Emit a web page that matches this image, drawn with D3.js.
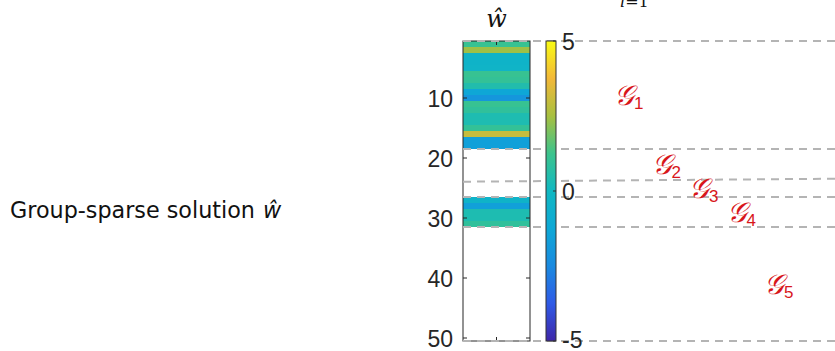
<!DOCTYPE html>
<html>
<head>
<meta charset="utf-8">
<script src="https://cdn.jsdelivr.net/npm/d3@7"></script>
<style>
  body { margin: 0; background: #fff; }
  svg { display: block; }
</style>
</head>
<body>
<svg id="chart" width="835" height="351"></svg>
<script>
// Values of the group-sparse solution, one per row (null = not selected, drawn white)
const rowValues = [
  1.1, 2.4, -0.4, -0.4, -0.3, 1.1, 1.0, 0.5, -1.3, -2.0,
  1.1, 0.9, 0.4, 0.4, 1.0, 3.0, -1.6, -1.6, null, null,
  null, null, null, null, null, null, -0.4, -1.6, 0.4, 0.4,
  0.9, null, null, null, null, null, null, null, null, null,
  null, null, null, null, null, null, null, null, null, null
];
const rowTicks = [10, 20, 30, 40, 50];
const colorTicks = [5, 0, -5];
const colorDomain = [-5, 5];

// group boundaries (row units); the third one is slightly tilted in the figure
const groupBoundsLeft = [0.5, 18.5, 23.95, 26.5, 31.5, 50.5];
const groupBoundsRight = [0.5, 18.5, 23.45, 26.5, 31.5, 50.5];
const groupLabels = ['1', '2', '3', '4', '5'];

// parula-like colormap
const parulaStops = ['#3e26a8', '#2f5ae6', '#1a8ae0', '#0ea8d6', '#10b8c2',
                     '#3cc38c', '#a8c040', '#f2b838', '#f9fb14'];

const svg = d3.select('#chart');
const axisColor = '#262626';

// Scales
const y = d3.scaleLinear().domain([0.5, 50.5]).range([41, 341]);
const x = d3.scaleLinear().domain([0.5, 1.5]).range([463, 530]);
const cbY = d3.scaleLinear().domain(colorDomain).range([341, 41]);
const color = d3.scaleLinear()
  .domain(parulaStops.map((c, i) => colorDomain[0] + i * (colorDomain[1] - colorDomain[0]) / (parulaStops.length - 1)))
  .range(parulaStops)
  .interpolate(d3.interpolateRgb);

// Heatmap cells
const heat = svg.append('g').attr('class', 'heat');
heat.selectAll('rect.cell')
  .data(rowValues)
  .enter()
  .append('rect')
  .attr('class', 'cell')
  .attr('x', x(0.5))
  .attr('y', (d, i) => y(i + 0.5))
  .attr('width', x(1.5) - x(0.5))
  .attr('height', y(1.5) - y(0.5) + 0.3)
  .attr('fill', d => d === null ? '#fff' : color(d));

// Box
heat.append('rect')
  .attr('x', x(0.5)).attr('y', y(0.5))
  .attr('width', x(1.5) - x(0.5)).attr('height', y(50.5) - y(0.5))
  .attr('fill', 'none').attr('stroke', axisColor).attr('stroke-width', 1);

// y ticks, both sides inward
rowTicks.forEach(t => {
  heat.append('line').attr('x1', x(0.5)).attr('x2', x(0.5) + 4)
    .attr('y1', y(t)).attr('y2', y(t)).attr('stroke', axisColor);
  heat.append('line').attr('x1', x(1.5)).attr('x2', x(1.5) - 4)
    .attr('y1', y(t)).attr('y2', y(t)).attr('stroke', axisColor);
});
// x tick at column 1
heat.append('line').attr('x1', x(1)).attr('x2', x(1)).attr('y1', y(0.5)).attr('y2', y(0.5) + 4).attr('stroke', axisColor);
heat.append('line').attr('x1', x(1)).attr('x2', x(1)).attr('y1', y(50.5)).attr('y2', y(50.5) - 4).attr('stroke', axisColor);

heat.selectAll('text.ytick')
  .data(rowTicks)
  .enter()
  .append('text')
  .attr('class', 'ytick')
  .attr('x', x(0.5) - 10)
  .attr('y', d => y(d) + 1)
  .attr('dy', '0.36em')
  .attr('text-anchor', 'end')
  .attr('font-family', 'Liberation Sans, Arial, sans-serif')
  .attr('font-size', 23)
  .attr('fill', axisColor)
  .text(d => d);

// Title w-hat
svg.append('text')
  .attr('x', x(1)).attr('y', 27)
  .attr('text-anchor', 'middle')
  .attr('font-family', 'DejaVu Serif, Liberation Serif, serif')
  .attr('font-style', 'italic')
  .attr('font-size', 24)
  .attr('fill', '#111')
  .text('ŵ');

// Dashed group boundaries
svg.append('g').attr('class', 'bounds')
  .selectAll('line')
  .data(groupBoundsLeft)
  .enter()
  .append('line')
  .attr('x1', 463).attr('x2', 835)
  .attr('y1', d => y(d))
  .attr('y2', (d, i) => y(groupBoundsRight[i]))
  .attr('stroke', '#b4b4b4')
  .attr('stroke-width', 2)
  .attr('stroke-dasharray', '8,6');

// Colorbar
const defs = svg.append('defs');
const grad = defs.append('linearGradient')
  .attr('id', 'parula').attr('x1', 0).attr('y1', 1).attr('x2', 0).attr('y2', 0);
parulaStops.forEach((c, i) => {
  grad.append('stop').attr('offset', i / (parulaStops.length - 1)).attr('stop-color', c);
});
const cb = svg.append('g').attr('class', 'colorbar');
cb.append('rect')
  .attr('x', 546).attr('y', cbY(5)).attr('width', 10).attr('height', cbY(-5) - cbY(5))
  .attr('fill', 'url(#parula)')
  .attr('stroke', '#333').attr('stroke-width', 1);
colorTicks.forEach(t => {
  cb.append('line').attr('x1', 556).attr('x2', 553).attr('y1', cbY(t)).attr('y2', cbY(t)).attr('stroke', '#333');
});
cb.selectAll('text')
  .data(colorTicks)
  .enter()
  .append('text')
  .attr('x', 562)
  .attr('y', d => d < 0 ? cbY(d) - 1 : cbY(d) + 1)
  .attr('dy', '0.36em')
  .attr('font-family', 'Liberation Sans, Arial, sans-serif')
  .attr('font-size', 23)
  .attr('fill', axisColor)
  .text(d => d < 0 ? '-' + Math.abs(d) : d);

// Group labels G_k, placed under each group's middle row
const labelX = d3.scaleLinear().domain([0, 4]).range([614, 764]);
const gl = svg.append('g').attr('class', 'glabels');
groupLabels.forEach((g, i) => {
  const mid = (groupBoundsRight[i] + groupBoundsRight[i + 1]) / 2;
  const t = gl.append('text')
    .attr('x', labelX(i))
    .attr('y', y(mid) + 10)
    .attr('font-family', 'Liberation Serif, DejaVu Serif, serif')
    .attr('font-size', 28)
    .attr('fill', '#d8161b');
  t.append('tspan').attr('font-style', 'italic').text('𝒢');
  t.append('tspan').attr('font-size', 17).attr('font-family', 'Liberation Sans, sans-serif').attr('dy', 4).text(g);
});

// cut-off formula fragment at the top
const frag = svg.append('text')
  .attr('x', 620).attr('y', 7)
  .attr('font-family', 'DejaVu Serif, Liberation Serif, serif')
  .attr('font-size', 16)
  .attr('fill', '#111');
frag.append('tspan').attr('font-style', 'italic').text('i');
frag.append('tspan').text('=1');

// Row label on the left
const lab = svg.append('text')
  .attr('x', 10).attr('y', 218)
  .attr('font-family', 'DejaVu Sans, sans-serif')
  .attr('font-size', 22)
  .attr('fill', '#111');
const main = lab.append('tspan').text('Group-sparse solution');
const w0 = main.node().getComputedTextLength();
lab.attr('font-size', 22 * 245 / w0);
lab.append('tspan').attr('dx', 8).attr('font-style', 'italic').text('ŵ');
</script>
</body>
</html>
